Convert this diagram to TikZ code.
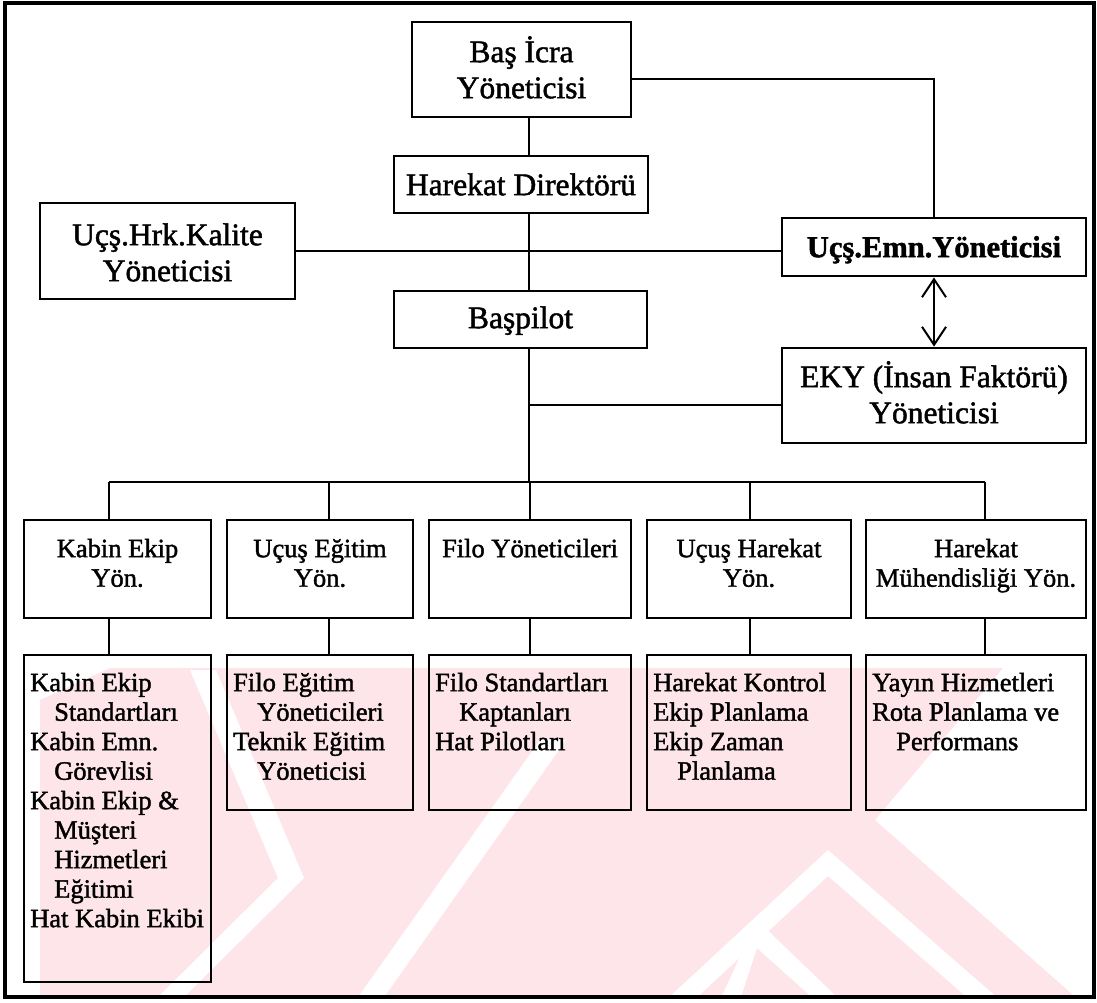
\documentclass[tikz,border=0pt]{standalone}
\usepackage{fontspec}
\setmainfont{Liberation Serif}[FakeBold=1.5]
\usetikzlibrary{arrows.meta}
\newcommand\upperstrut{\rule{0pt}{29pt}}
\newcommand\lowerstrut{\rule{0pt}{25pt}}
\begin{document}
\begin{tikzpicture}[x=1pt,y=-1pt,
  outer/.style={line width=3.4pt},
  box/.style={draw, line width=2.8pt, inner sep=0pt},
  link/.style={line width=2.3pt},
  bigtxt/.style={inner sep=0pt, align=center, anchor=north,
    font=\fontsize{31.5}{36}\selectfont},
  midtxt/.style={inner sep=0pt, align=center, anchor=north,
    font=\fontsize{26.5}{29.5}\selectfont},
  listtxt/.style={inner sep=0pt, align=left, anchor=north west,
    font=\fontsize{26.5}{29.5}\selectfont},
  wm/.style={fill={rgb,255:red,253;green,229;blue,234}},
  gap/.style={fill=white}
]
\useasboundingbox (0,0) rectangle (1097,1002);

% faint background emblem
\fill[wm] (40,700) -- (110,668) -- (1003,668) -- (875,820) -- (1073,995) -- (40,995) -- cycle;
\fill[gap] (190,670) -- (216,670) -- (304,878) -- (278,878) -- cycle;
\fill[gap] (278,878) -- (304,878) -- (181,1000) -- (155,1000) -- cycle;
\fill[gap] (540,740) -- (566,740) -- (382,1000) -- (356,1000) -- cycle;
\fill[gap] (666,1000) -- (828,850) -- (1000,1000) -- (970,1000) -- (828,876) -- (694,1000) -- cycle;
\fill[gap] (720,1000) -- (757,920) -- (840,1000) -- (815,1000) -- (757,948) -- (740,1000) -- cycle;

% outer frame
\draw[outer] (5,3) rectangle (1094,997);

% boxes
\node[box, minimum width=219pt, minimum height=95pt] (bas) at (521.5,69.5) {};
\node[box, minimum width=254pt, minimum height=57pt] (hd) at (521,184.5) {};
\node[box, minimum width=255pt, minimum height=96pt] (kal) at (167.5,251) {};
\node[box, minimum width=304pt, minimum height=58pt] (emn) at (934,247) {};
\node[box, minimum width=253pt, minimum height=57pt] (bp) at (520.5,319.5) {};
\node[box, minimum width=304pt, minimum height=95pt] (eky) at (934,395.5) {};

\node[box, minimum width=187pt, minimum height=98pt] (k2) at (117.5,569) {};
\node[box, minimum width=186pt, minimum height=98pt] (u2) at (320,569) {};
\node[box, minimum width=202pt, minimum height=98pt] (f2) at (530,569) {};
\node[box, minimum width=204pt, minimum height=98pt] (h2) at (749,569) {};
\node[box, minimum width=220pt, minimum height=98pt] (m2) at (976,569) {};

\node[box, minimum width=187pt, minimum height=327pt] (k3) at (117.5,818.5) {};
\node[box, minimum width=186pt, minimum height=155pt] (u3) at (320,732.5) {};
\node[box, minimum width=202pt, minimum height=155pt] (f3) at (530,732.5) {};
\node[box, minimum width=204pt, minimum height=155pt] (h3) at (749,732.5) {};
\node[box, minimum width=220pt, minimum height=155pt] (m3) at (976,732.5) {};

% texts
\node[bigtxt] (bas-t) at (521.5,33) {\upperstrut Baş İcra\\Yöneticisi};
\node[bigtxt] (hd-t) at (521,166) {\upperstrut Harekat Direktörü};
\node[bigtxt] (kal-t) at (167.5,216) {\upperstrut Uçş.Hrk.Kalite\\Yöneticisi};
\node[bigtxt, font=\fontsize{30.5}{36}\selectfont\bfseries] (emn-t) at (934,228) {\upperstrut Uçş.Emn.Yöneticisi};
\node[bigtxt] (bp-t) at (520.5,299) {\upperstrut Başpilot};
\node[bigtxt] (eky-t) at (934,358) {\upperstrut EKY (İnsan Faktörü)\\Yöneticisi};

\node[midtxt] (k2-t) at (117.5,532) {\lowerstrut Kabin Ekip\\Yön.};
\node[midtxt] (u2-t) at (320,532) {\lowerstrut Uçuş Eğitim\\Yön.};
\node[midtxt] (f2-t) at (530,532) {\lowerstrut Filo Yöneticileri};
\node[midtxt] (h2-t) at (749,532) {\lowerstrut Uçuş Harekat\\Yön.};
\node[midtxt] (m2-t) at (976,532) {\lowerstrut Harekat\\Mühendisliği Yön.};

\node[listtxt] (k3-t) at (30,666) {\lowerstrut Kabin Ekip\\\hspace*{24pt}Standartları\\Kabin Emn.\\\hspace*{24pt}Görevlisi\\Kabin Ekip \&\\\hspace*{24pt}Müşteri\\\hspace*{24pt}Hizmetleri\\\hspace*{24pt}Eğitimi\\Hat Kabin Ekibi};
\node[listtxt] (u3-t) at (233,666) {\lowerstrut Filo Eğitim\\\hspace*{24pt}Yöneticileri\\Teknik Eğitim\\\hspace*{24pt}Yöneticisi};
\node[listtxt] (f3-t) at (435,666) {\lowerstrut Filo Standartları\\\hspace*{24pt}Kaptanları\\Hat Pilotları};
\node[listtxt] (h3-t) at (653,666) {\lowerstrut Harekat Kontrol\\Ekip Planlama\\Ekip Zaman\\\hspace*{24pt}Planlama};
\node[listtxt] (m3-t) at (872,666) {\lowerstrut Yayın Hizmetleri\\Rota Planlama ve\\\hspace*{24pt}Performans};

% junction points
\coordinate (tr) at (529,482);
\coordinate (top) at (934,79);
\coordinate (ek) at (529,405);
\coordinate (dk) at (109,482);
\coordinate (du) at (329,482);
\coordinate (df) at (530,482);
\coordinate (dh) at (750,482);
\coordinate (dm) at (985,482);

% connectors
\draw[link] (bas.south -| tr) -- (hd.north -| tr);
\draw[link] (hd.south -| tr) -- (bp.north -| tr);
\draw[link] (bp.south -| tr) -- (tr);
\draw[link] (bas.east |- top) -| (emn.north);
\draw[link] (kal.east) -- (kal.east -| emn.west);
\draw[link] (ek) -- (ek -| eky.west);
\draw[line width=2pt, {Straight Barb[length=18pt,width=24pt]}-{Straight Barb[length=18pt,width=24pt]}] (emn.south) -- (eky.north);
\draw[link] (dk) -- (dm);
\foreach \d/\a/\b in {dk/k2/k3, du/u2/u3, df/f2/f3, dh/h2/h3, dm/m2/m3}{
  \draw[link] (\d) -- (\d |- \a.north);
  \draw[link] (\a.south -| \d) -- (\b.north -| \d);
}
\end{tikzpicture}
\end{document}
